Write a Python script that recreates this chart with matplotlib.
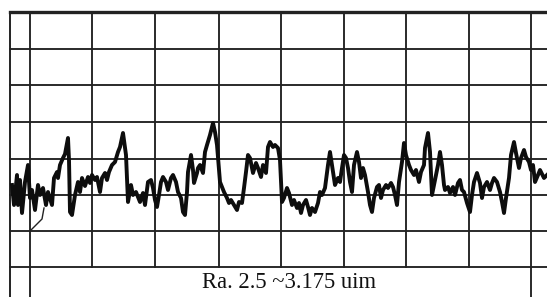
import numpy as np
import matplotlib.pyplot as plt

# profile trace (chart pixel units, y grows downward)
trace_x = [12, 14, 17, 18, 20, 22, 25, 28, 30, 32, 35, 38, 40, 43, 46, 48, 52, 54, 57, 58,
           60, 63, 65, 68, 69, 70, 72, 75, 78, 80, 82, 85, 88, 90, 92, 95, 97, 100, 102, 105,
           107, 109, 112, 115, 118, 120, 123, 126, 128, 131, 133, 136, 140, 143, 145, 148, 151, 153, 155, 157,
           159, 161, 163, 166, 168, 171, 173, 176, 178, 181, 183, 185, 187, 188, 191, 193, 194, 197, 198, 200,
           203, 205, 207, 210, 213, 215, 217, 220, 222, 224, 227, 229, 231, 234, 237, 239, 242, 244, 246, 248,
           250, 253, 256, 258, 261, 263, 266, 268, 270, 273, 275, 278, 280, 282, 284, 287, 289, 292, 294, 297,
           299, 301, 303, 306, 308, 310, 312, 315, 318, 320, 322, 325, 328, 330, 332, 335, 338, 340, 342, 344,
           346, 348, 350, 352, 354, 357, 359, 361, 363, 365, 368, 370, 372, 374, 377, 379, 381, 383, 386, 388,
           391, 393, 395, 397, 399, 402, 404, 406, 409, 411, 414, 416, 419, 421, 424, 425, 428, 430, 432, 434,
           435, 438, 440, 442, 444, 445, 448, 450, 453, 455, 458, 460, 462, 464, 467, 470, 472, 474, 477, 480,
           482, 484, 487, 490, 492, 494, 497, 500, 502, 504, 506, 509, 511, 514, 516, 519, 521, 524, 526, 529,
           531, 533, 535, 538, 540, 544, 547]
trace_y = [185, 205, 175, 205, 180, 213, 182, 165, 198, 190, 210, 185, 195, 188, 205, 192, 205, 178, 172, 178,
           165, 158, 154, 138, 160, 212, 215, 195, 182, 192, 178, 186, 177, 183, 175, 180, 177, 192, 178, 173,
           180, 172, 165, 162, 152, 147, 133, 155, 202, 185, 195, 192, 202, 193, 205, 182, 180, 188, 200, 207,
           195, 182, 177, 182, 190, 178, 175, 182, 192, 198, 212, 215, 192, 172, 155, 170, 183, 173, 168, 165,
           173, 152, 145, 135, 123, 132, 145, 182, 187, 192, 198, 203, 200, 205, 210, 202, 203, 188, 172, 155,
           158, 173, 163, 168, 177, 165, 173, 147, 142, 147, 145, 148, 160, 202, 198, 188, 193, 205, 200, 208,
           203, 213, 205, 200, 207, 215, 208, 212, 203, 192, 195, 188, 165, 152, 165, 185, 178, 182, 168, 155,
           158, 168, 182, 192, 165, 152, 162, 178, 168, 175, 192, 205, 212, 198, 187, 185, 198, 190, 185, 188,
           183, 187, 195, 205, 182, 162, 143, 155, 165, 170, 175, 170, 182, 172, 165, 148, 133, 152, 195, 185,
           180, 165, 152, 165, 185, 190, 187, 193, 187, 195, 183, 180, 190, 192, 203, 212, 195, 182, 173, 183,
           198, 187, 182, 190, 183, 178, 182, 192, 202, 213, 198, 178, 155, 142, 153, 168, 158, 150, 157, 162,
           170, 165, 182, 175, 170, 178, 175]

# small pen stroke below the start of the trace
stroke_x = [30, 42, 44]
stroke_y = [231, 219, 208]

# chart grid
vlines = [30, 92, 155, 219, 281, 344, 406, 469, 531]
long_vlines = [30, 531]
hlines = [49, 85, 122, 159, 195, 231, 267]
label = 'Ra. 2.5 ~3.175 uim'

fig = plt.figure(figsize=(5.47, 2.97), dpi=100)
ax = fig.add_axes([0, 0, 1, 1])
ax.set_xlim(0, 547)
ax.set_ylim(297, 0)
ax.axis('off')

gc = '#222222'
# left border and top line
ax.plot([10, 10], [12, 297], color=gc, lw=1.4)
ax.plot([10, 547], [12, 12], color=gc, lw=2.4)
for y in hlines:
    ax.plot([10, 547], [y, y], color=gc, lw=1.35)
for x in vlines:
    bottom = 297 if x in long_vlines else 267
    ax.plot([x, x], [12, bottom], color=gc, lw=1.35)

ax.plot(stroke_x, stroke_y, color='#222222', lw=1.0)
ax.plot(trace_x, trace_y, color='#0d0d0d', lw=2.8, solid_joinstyle='round')

ax.text(289, 283, label, ha='center', va='center', fontsize=16.3,
        family='Liberation Serif', color='#111111')

fig.savefig('out.png', dpi=100)
